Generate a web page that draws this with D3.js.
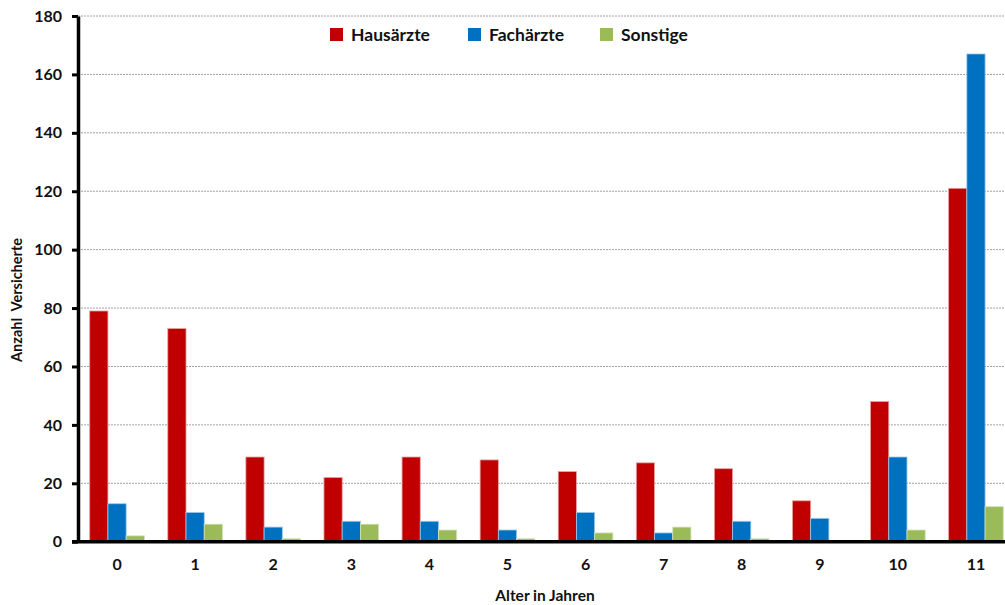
<!DOCTYPE html>
<html>
<head>
<meta charset="utf-8">
<script src="https://cdn.jsdelivr.net/npm/d3@7"></script>
<style>
  html, body { margin: 0; padding: 0; background: #fff; overflow: hidden; }
  svg { display: block; font-family: Lato, "Open Sans", "Liberation Sans", sans-serif; font-weight: bold; }
</style>
</head>
<body>
<svg id="chart" width="1005" height="605"></svg>
<script>
// Age groups (years)
const categories = ["0", "1", "2", "3", "4", "5", "6", "7", "8", "9", "10", "11"];
// Insured persons by type of physician
const seriesNames = ["Hausärzte", "Fachärzte", "Sonstige"];
const hausaerzte = [79, 73, 29, 22, 29, 28, 24, 27, 25, 14, 48, 121];
const fachaerzte = [13, 10, 5, 7, 7, 4, 10, 3, 7, 8, 29, 167];
const sonstige   = [2, 6, 1, 6, 4, 1, 3, 5, 1, 0, 4, 12];
const yTicks = [0, 20, 40, 60, 80, 100, 120, 140, 160, 180];

const colors = { "Hausärzte": "#C00000", "Fachärzte": "#0070C0", "Sonstige": "#9BBB59" };
const edges  = { "Hausärzte": "#E6A3A3", "Fachärzte": "#9CC8EA", "Sonstige": "#D3E2B6" };

const values = { "Hausärzte": hausaerzte, "Fachärzte": fachaerzte, "Sonstige": sonstige };
const rows = categories.map((c, i) => ({ cat: c, vals: seriesNames.map(s => ({ key: s, value: values[s][i] })) }));

const svg = d3.select("#chart");
const plotLeft = 78, plotTop = 16, plotBottom = 541.7, plotRight = 1015;

const x = d3.scaleBand().domain(categories).range([plotLeft, plotRight]).paddingInner(0.3).paddingOuter(0.15);
const xs = d3.scaleBand().domain(seriesNames).range([0, x.bandwidth()]).padding(0);
const y = d3.scaleLinear().domain([0, 180]).range([plotBottom, plotTop]);

// Horizontal dotted gridlines
svg.append("g")
  .selectAll("line")
  .data(yTicks.filter(t => t > 0))
  .join("line")
  .attr("x1", plotLeft).attr("x2", 1005)
  .attr("y1", d => y(d)).attr("y2", d => y(d))
  .attr("stroke", "#a0a0a0").attr("stroke-width", 1)
  .attr("stroke-dasharray", "2,1");

// Bars
const groups = svg.append("g").selectAll("g")
  .data(rows).join("g")
  .attr("transform", d => `translate(${x(d.cat)},0)`);

groups.selectAll("rect")
  .data(d => d.vals.filter(v => v.value > 0))
  .join("rect")
  .attr("x", d => xs(d.key))
  .attr("y", d => y(d.value))
  .attr("width", xs.bandwidth())
  .attr("height", d => plotBottom - y(d.value))
  .attr("fill", d => colors[d.key])
  .attr("stroke", d => edges[d.key])
  .attr("stroke-width", 0.8);

// Y axis
const yAxis = d3.axisLeft(y).tickValues(yTicks).tickSize(6).tickSizeOuter(0).tickPadding(10);
const gy = svg.append("g").attr("transform", `translate(${plotLeft},0)`).call(yAxis);
gy.select(".domain").attr("stroke", "#000").attr("stroke-width", 3.5);
gy.selectAll(".tick line").attr("stroke", "#000").attr("stroke-width", 3);
gy.selectAll(".tick text").attr("font-size", 16).attr("font-weight", "bold").attr("fill", "#111")
  .attr("font-family", "Lato, 'Open Sans', sans-serif");

// X axis
const xAxis = d3.axisBottom(x).tickSize(0).tickPadding(17);
const gx = svg.append("g").attr("transform", `translate(0,${plotBottom})`).call(xAxis);
gx.select(".domain").attr("stroke", "#000").attr("stroke-width", 3.5).attr("d", `M${plotLeft - 6},0H1005`);
gx.selectAll(".tick text").attr("font-size", 16).attr("font-weight", "bold").attr("fill", "#111")
  .attr("font-family", "Lato, 'Open Sans', sans-serif");

// Axis titles
svg.append("text")
  .attr("transform", "translate(22,300) rotate(-90)")
  .attr("text-anchor", "middle")
  .attr("font-size", 14.5).attr("fill", "#111")
  .attr("xml:space", "preserve")
  .text("Anzahl  Versicherte");

svg.append("text")
  .attr("x", 545).attr("y", 601)
  .attr("text-anchor", "middle")
  .attr("font-size", 15.5).attr("fill", "#111")
  .text("Alter in Jahren");

// Legend
const legendPos = [330, 468, 600];
const legend = svg.append("g").selectAll("g")
  .data(seriesNames).join("g")
  .attr("transform", (d, i) => `translate(${legendPos[i]},28)`);
legend.append("rect").attr("width", 13).attr("height", 13).attr("fill", d => colors[d]);
legend.append("text").attr("x", 21).attr("y", 13)
  .attr("font-size", 17.5).attr("fill", "#111")
  .text(d => d);
</script>
</body>
</html>
